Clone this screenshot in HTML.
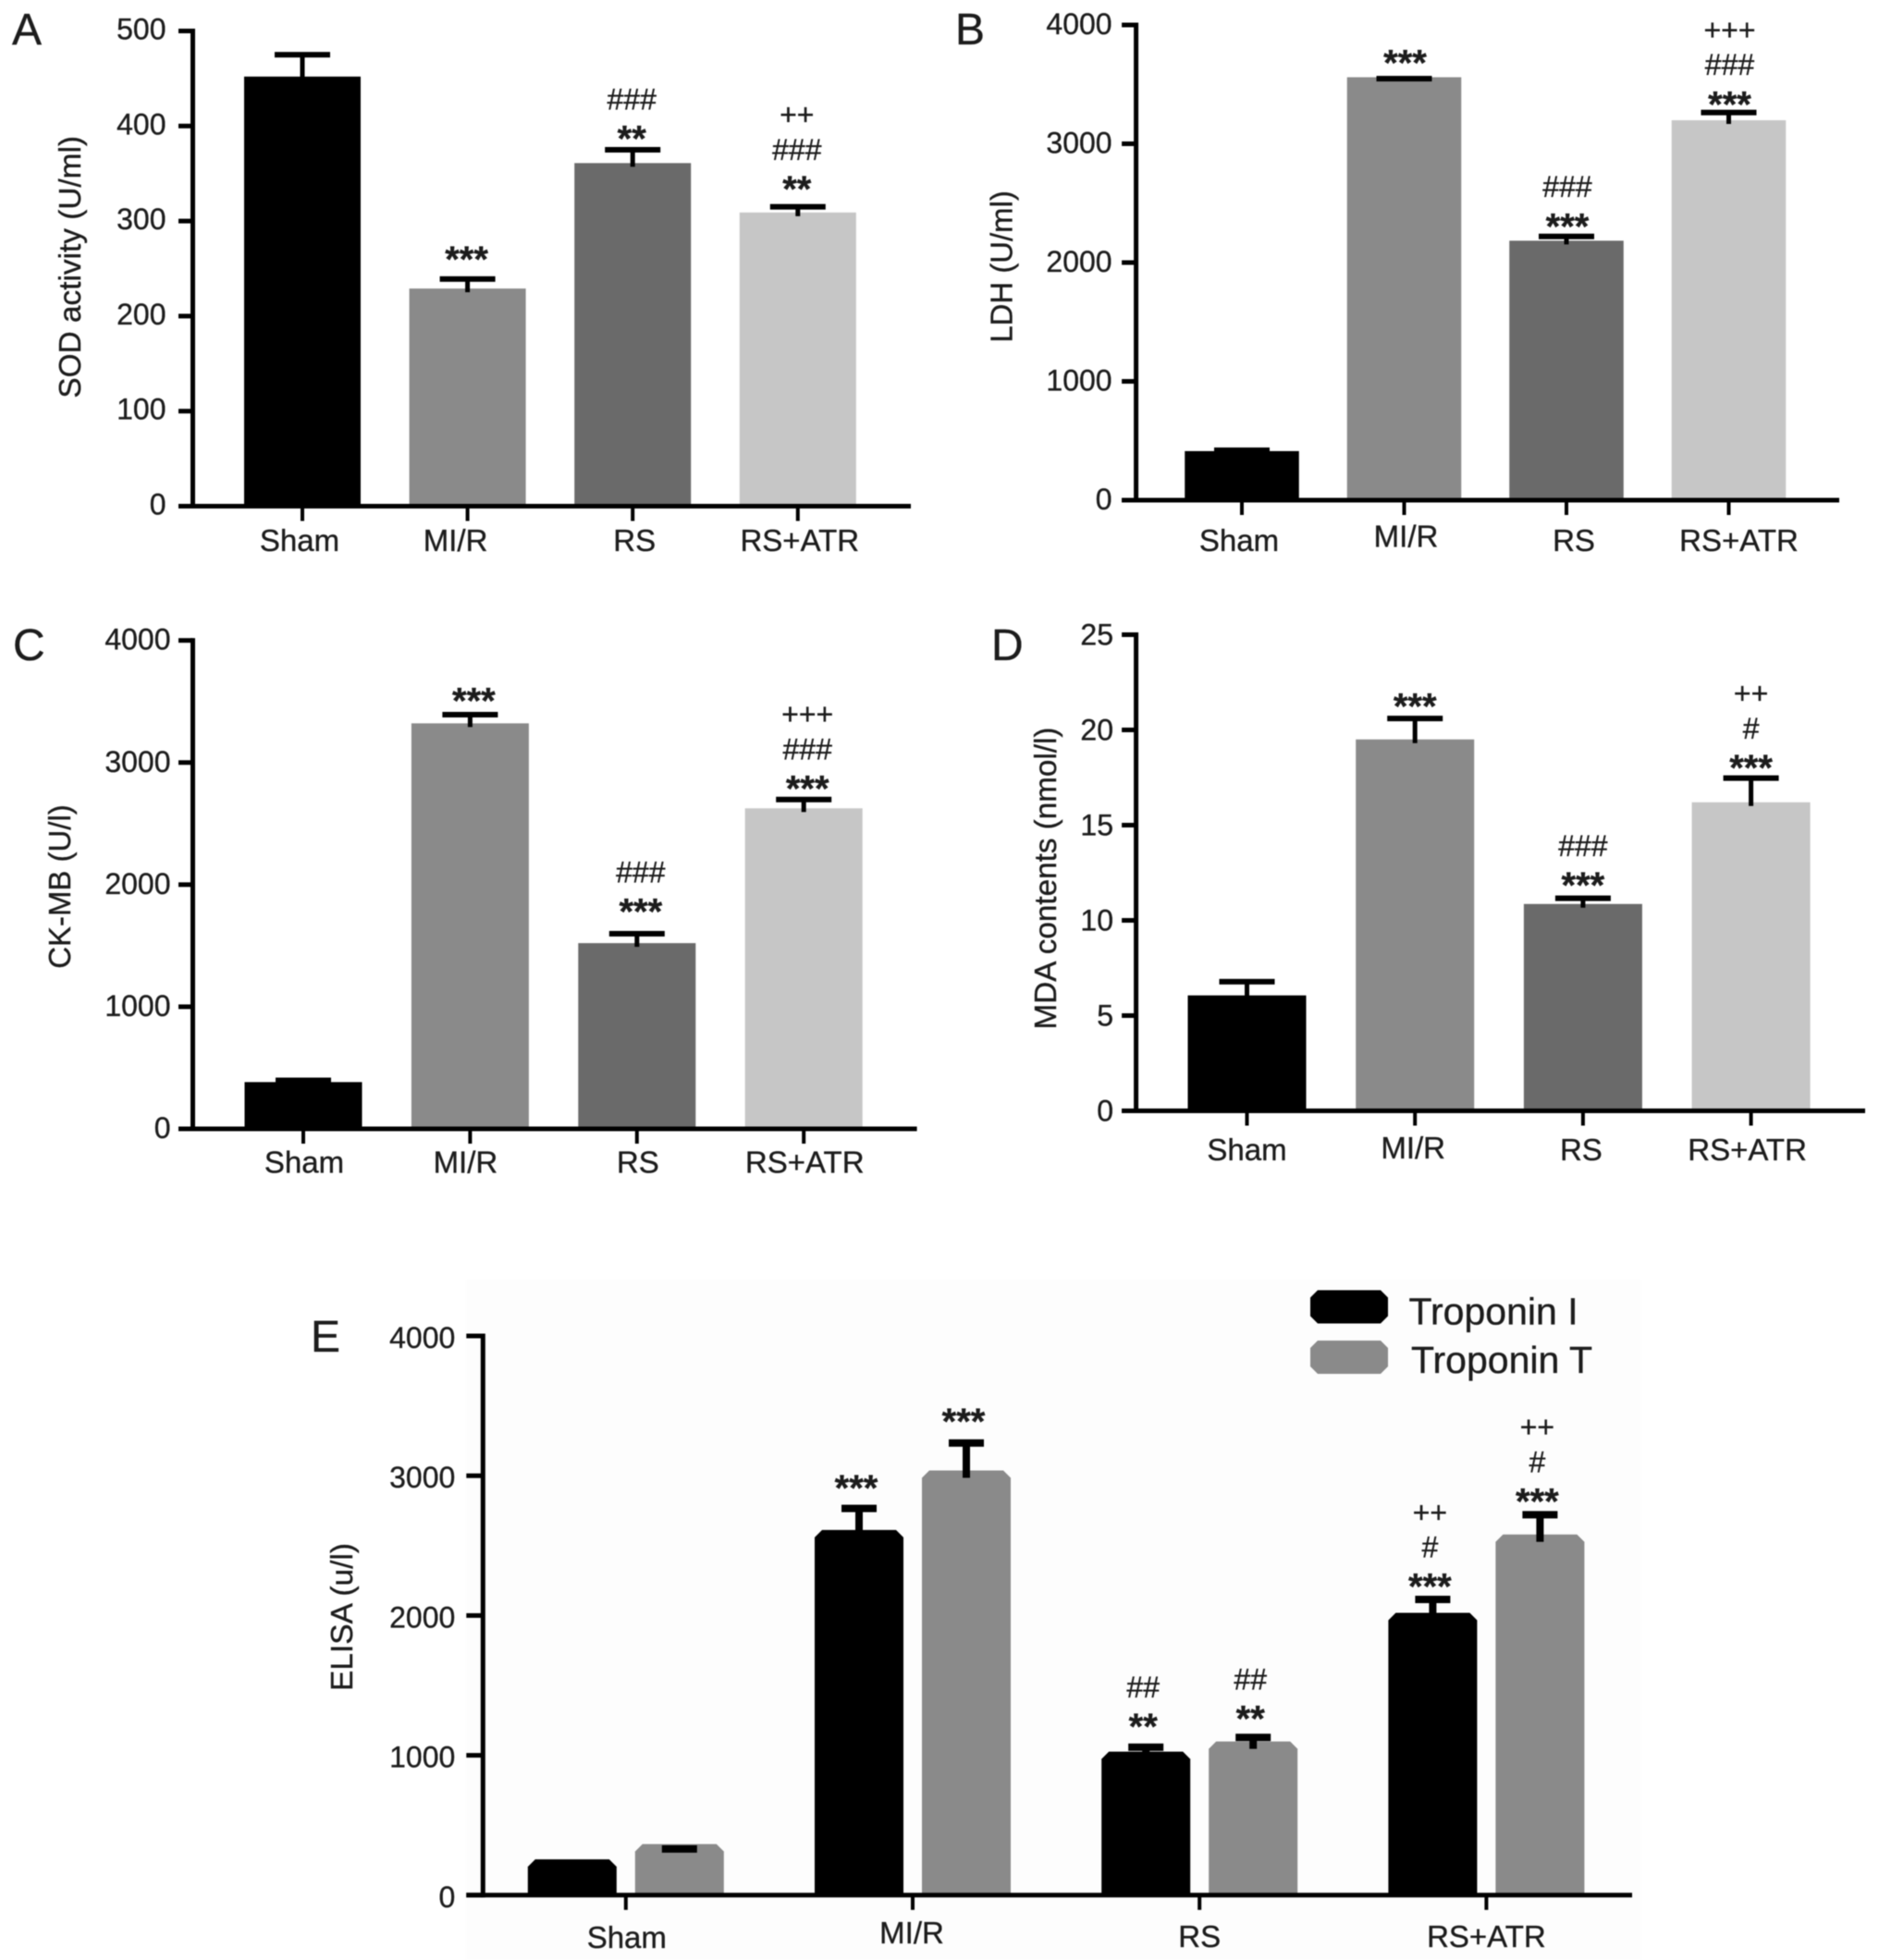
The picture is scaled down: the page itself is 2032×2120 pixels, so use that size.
<!DOCTYPE html>
<html lang="en">
<head>
<meta charset="utf-8">
<title>Cardiac marker bar charts, panels A to E</title>
<style>
html,body{margin:0;padding:0;background:#fff;}
#figure{display:block;width:2032px;height:2120px;font-family:"Liberation Sans",Arial,sans-serif;fill:#1c1c1c;filter:blur(0.6px);}
#figure text{stroke:#1c1c1c;stroke-width:0.35px;}
</style>
</head>
<body>
<svg id="figure" xmlns="http://www.w3.org/2000/svg" width="2032" height="2120" viewBox="0 0 2032 2120">
  <rect x="-5" y="-5" width="2042" height="2130" fill="#ffffff"/>
  <rect x="504" y="1384" width="1271" height="736" fill="#fdfdfd"/>

  <text x="13" y="48" font-size="48">A</text>
  <text x="1033" y="48" font-size="48">B</text>
  <text x="14" y="714" font-size="48">C</text>
  <text x="1072" y="714" font-size="48">D</text>
  <text x="336" y="1462" font-size="48">E</text>

  <text transform="translate(87 288.8) rotate(-90)" text-anchor="middle" font-size="33" textLength="283.6" lengthAdjust="spacingAndGlyphs">SOD activity (U/ml)</text>
  <text transform="translate(1094.5 288.4) rotate(-90)" text-anchor="middle" font-size="33" textLength="164.5" lengthAdjust="spacingAndGlyphs">LDH (U/ml)</text>
  <text transform="translate(76 959) rotate(-90)" text-anchor="middle" font-size="33" textLength="177.5" lengthAdjust="spacingAndGlyphs">CK-MB (U/l)</text>
  <text transform="translate(1142 950) rotate(-90)" text-anchor="middle" font-size="33" textLength="327" lengthAdjust="spacingAndGlyphs">MDA contents (nmol/l)</text>
  <text transform="translate(381 1749) rotate(-90)" text-anchor="middle" font-size="33" textLength="160" lengthAdjust="spacingAndGlyphs">ELISA (u/l)</text>

  <g>
    <polygon points="1425,1395.5 1493,1395.5 1501,1403.5 1501,1423.5 1493,1431.5 1425,1431.5 1417,1423.5 1417,1403.5" fill="#000000"/>
    <text x="1523.5" y="1432.7" font-size="41">Troponin I</text>
    <polygon points="1425,1450 1493,1450 1501,1458 1501,1478 1493,1486 1425,1486 1417,1478 1417,1458" fill="#8a8a8a"/>
    <text x="1526" y="1485" font-size="41">Troponin T</text>
  </g>
</svg>

<script>
// Shared categories
const categories = ['Sham', 'MI/R', 'RS', 'RS+ATR'];

// Panel A: SOD activity
const ticksA = [0, 100, 200, 300, 400, 500];
const valuesA = [452, 229, 361, 309];
const errorsA = [475, 239, 375, 315];
const notesA = [[], ['***'], ['**', '###'], ['**', '###', '++']];
const noteGapA = [0, 26, 17, 24];

// Panel B: LDH
const ticksB = [0, 1000, 2000, 3000, 4000];
const valuesB = [413, 3560, 2184, 3198];
const errorsB = [420, 3548, 2220, 3263];
const notesB = [[], ['***'], ['***', '###'], ['***', '###', '+++']];
const noteGapB = [0, 175, 127, 111];

// Panel C: CK-MB
const ticksC = [0, 1000, 2000, 3000, 4000];
const valuesC = [383, 3321, 1521, 2625];
const errorsC = [397, 3392, 1598, 2697];
const notesC = [[], ['***'], ['***', '###'], ['***', '###', '+++']];
const noteGapC = [0, 155, 223, 130];

// Panel D: MDA contents
const ticksD = [0, 5, 10, 15, 20, 25];
const valuesD = [6.06, 19.5, 10.86, 16.2];
const errorsD = [6.78, 20.6, 11.16, 17.47];
const notesD = [[], ['***'], ['***', '###'], ['***', '#', '++']];
const noteGapD = [0, 0.9, 0.95, 0.8];

// Panel E: ELISA, two series
const ticksE = [0, 1000, 2000, 3000, 4000];
const seriesNamesE = ['troponin-i', 'troponin-t'];
const troponinIValues = [256, 2612, 1026, 2019];
const troponinTValues = [365, 3038, 1099, 2580];
const troponinIErrors = [225, 2766, 1058, 2115];
const troponinTErrors = [330, 3234, 1128, 2721];
const troponinINotes = [[], ['***'], ['**', '##'], ['***', '#', '++']];
const troponinTNotes = [[], ['***'], ['**', '##'], ['***', '#', '++']];
const troponinINoteGap = [0, 183, 183, 128];
const troponinTNoteGap = [0, 189, 170, 131];

const svg = document.getElementById('figure');
const NS = 'http://www.w3.org/2000/svg';
const INK = '#000000';
const TEXT = '#1c1c1c';
const FILLS = ['#000000', '#8a8a8a', '#6a6a6a', '#c6c6c6'];

function mk(parent, tag, attrs, text) {
  const el = document.createElementNS(NS, tag);
  for (const k in attrs) el.setAttribute(k, attrs[k]);
  if (text !== undefined) el.textContent = text;
  parent.appendChild(el);
  return el;
}

function makeY(p) {
  return function (v) { return p.y0 - (v / p.max) * (p.y0 - p.yTop); };
}

function makeX(p) {
  return function (i) { return p.x0 + i * p.step; };
}

function drawError(g, p, y, cx, value, err) {
  const capY = y(err);
  const topY = y(value);
  if (capY < topY) {
    const stem = mk(g, 'rect', { x: cx - p.stemW / 2, y: capY, width: p.stemW, height: topY - capY + p.stemDip, fill: INK });
    
    
  }
  const cap = mk(g, 'rect', { x: cx - p.capW / 2, y: capY - p.capH / 2, width: p.capW, height: p.capH, fill: INK });
  
  
}

function drawNotes(g, y, cx, err, gap, notes) {
  const base = y(err + gap);
  notes.forEach(function (note, n) {
    const star = note.charAt(0) === '*';
    const size = star ? 40 : 32;
    const drop = star ? 19 : 11.5;
    const t = mk(g, 'text', { x: cx, y: base - n * 37.7 + drop, 'text-anchor': 'middle', 'font-size': size, 'font-weight': star ? 'bold' : 'normal', fill: TEXT }, note);
    
    
  });
}

function drawAxes(root, p, y, x, ticks) {
  const axisY = mk(root, 'rect', { x: p.axisX - 2.5, y: p.yTop - 2.5, width: 5, height: p.y0 - p.yTop + 5, fill: INK });
  
  
  const axisX = mk(root, 'rect', { x: p.axisX - p.tickLen, y: p.y0 - 2.5, width: p.axisEnd - p.axisX + p.tickLen, height: 5, fill: INK });
  
  
  ticks.forEach(function (tv) {
    const tk = mk(root, 'rect', { x: p.axisX - p.tickLen, y: y(tv) - 2.5, width: p.tickLen, height: 5, fill: INK });
    
    
    const lb = mk(root, 'text', { x: p.axisX - p.labelGap, y: y(tv) + 11 + p.labelDrop, 'text-anchor': 'end', 'font-size': 32, fill: TEXT }, String(tv));
    
    
  });
  categories.forEach(function (c, i) {
    const tk = mk(root, 'rect', { x: x(i) - 2, y: p.y0, width: 4, height: 16, fill: INK });
    
    
    const lb = mk(root, 'text', { x: x(i) + p.catDx[i], y: p.catY[i], 'text-anchor': 'middle', 'font-size': 33, fill: TEXT }, c);
    
    
  });
}

function singlePanel(name, p, ticks, values, errors, notes, gaps) {
  const root = mk(svg, 'g', {});
  
  
  const y = makeY(p);
  const x = makeX(p);
  values.forEach(function (v, i) {
    const b = mk(root, 'rect', { x: x(i) - p.barW / 2, y: y(v), width: p.barW, height: p.y0 - y(v), fill: FILLS[i] });
    
    
    drawError(root, p, y, x(i), v, errors[i]);
    drawNotes(root, y, x(i) + p.noteDx, errors[i], gaps[i], notes[i]);
  });
  drawAxes(root, p, y, x, ticks);
}

singlePanel('a', { x0: 327, step: 178.6, barW: 126, y0: 547.5, yTop: 33.5, max: 500, axisX: 208.5, axisEnd: 985, tickLen: 15.5, labelGap: 29, labelDrop: -2, catDx: [-3, -13, 2, 2], catY: [596, 596, 596, 596], capW: 60, capH: 6, stemW: 5, stemDip: 4, noteDx: -1 }, ticksA, valuesA, errorsA, notesA, noteGapA);

singlePanel('b', { x0: 1343, step: 175.5, barW: 123.5, y0: 541, yTop: 27, max: 4000, axisX: 1228.6, axisEnd: 1989, tickLen: 15.5, labelGap: 26, labelDrop: -1, catDx: [-3, 2, 8, 11], catY: [596, 591.5, 596, 596], capW: 60, capH: 6, stemW: 5, stemDip: 4, noteDx: 1 }, ticksB, valuesB, errorsB, notesB, noteGapB);

singlePanel('c', { x0: 328, step: 180.4, barW: 127, y0: 1221, yTop: 692.7, max: 4000, axisX: 208.5, axisEnd: 991.6, tickLen: 15.5, labelGap: 24, labelDrop: -1, catDx: [1, -5, 1, 1], catY: [1268.5, 1268.5, 1268.5, 1268.5], capW: 60, capH: 6, stemW: 5, stemDip: 4, noteDx: 4 }, ticksC, valuesC, errorsC, notesC, noteGapC);

singlePanel('d', { x0: 1348.5, step: 181.7, barW: 128, y0: 1201.5, yTop: 686.5, max: 25, axisX: 1228.6, axisEnd: 2017, tickLen: 15.5, labelGap: 24.6, labelDrop: 0, catDx: [0, -2, -2, -4], catY: [1255, 1253, 1255, 1255], capW: 60, capH: 6, stemW: 5, stemDip: 4, noteDx: 0 }, ticksD, valuesD, errorsD, notesD, noteGapD);

(function () {
  const p = { x0: 676.8, step: 310.2, barW: 96, offset: 58, y0: 2049.8, yTop: 1445, max: 4000, axisX: 522.3, axisEnd: 1765, tickLen: 18, labelGap: 30, labelDrop: 2, catDx: [1, -1, 0, 0], catY: [2107, 2102, 2106, 2106], capW: 38, capH: 8, stemW: 8, stemDip: 8, chamfer: 8 };
  const root = mk(svg, 'g', {});
  
  
  const y = makeY(p);
  const x = makeX(p);
  const seriesValues = [troponinIValues, troponinTValues];
  const seriesErrors = [troponinIErrors, troponinTErrors];
  const seriesNotes = [troponinINotes, troponinTNotes];
  const seriesGaps = [troponinINoteGap, troponinTNoteGap];
  const seriesFills = ['#000000', '#8a8a8a'];
  seriesValues.forEach(function (vals, s) {
    vals.forEach(function (v, i) {
      const cx = x(i) + (s === 0 ? -p.offset : p.offset);
      const l = cx - p.barW / 2;
      const r = cx + p.barW / 2;
      const t = y(v);
      const c = p.chamfer;
      const pts = [[l, p.y0], [l, t + c], [l + c, t], [r - c, t], [r, t + c], [r, p.y0]].map(function (q) { return q.join(','); }).join(' ');
      const b = mk(root, 'polygon', { points: pts, fill: seriesFills[s] });
      
      
      drawError(root, p, y, cx, v, seriesErrors[s][i]);
      drawNotes(root, y, cx - 3, seriesErrors[s][i], seriesGaps[s][i], seriesNotes[s][i]);
    });
  });
  drawAxes(root, p, y, x, ticksE);
})();
</script>
</body>
</html>
